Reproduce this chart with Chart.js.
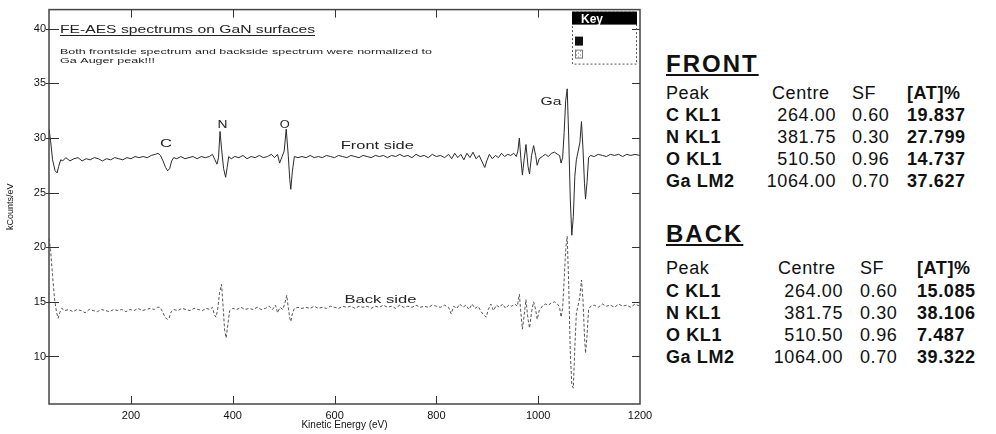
<!DOCTYPE html>
<html>
<head>
<meta charset="utf-8">
<script src="https://cdn.jsdelivr.net/npm/chart.js@4"></script>
<style>
html, body { margin: 0; padding: 0; background: #fff; }
body { width: 996px; height: 434px; position: relative; overflow: hidden; font-family: "Liberation Sans", Arial, sans-serif; color: #111; }
#wrap { position: absolute; left: 0; top: 0; width: 660px; height: 434px; }
.cell { position: absolute; font-size: 18px; line-height: 20px; letter-spacing: 0.6px; white-space: nowrap; }
.b { font-weight: bold; }
.head { position: absolute; font-size: 24px; line-height: 28px; font-weight: bold; letter-spacing: 2px; text-decoration: underline; text-decoration-thickness: 2px; text-underline-offset: 2px; }
</style>
</head>
<body>
<div id="wrap"><canvas id="spectrum"></canvas></div>
<div id="tables"></div>
<script>
// AES spectra, [kinetic energy eV, kCounts/eV]
const frontSpectrum = [[39,30.8],[42,29.8],[46,28.0],[51,27.0],[55,26.8],[58,27.4],[62,28.0],[66,27.9],[72,28.2],[80,27.9],[88,28.1],[96,28.2],[104,27.9],[112,28.1],[120,28.0],[128,28.2],[136,28.1],[144,27.9],[152,28.1],[160,28.0],[168,28.2],[176,28.1],[184,28.0],[192,28.2],[200,28.1],[208,28.3],[216,28.2],[224,28.3],[232,28.2],[240,28.4],[248,28.5],[253,28.6],[258,28.4],[263,27.9],[268,27.3],[272,27.0],[276,27.2],[280,27.9],[284,28.2],[290,28.1],[298,28.3],[306,28.1],[314,28.2],[322,28.3],[330,28.1],[338,28.3],[346,28.2],[354,28.3],[360,28.5],[365,28.0],[369,27.6],[372,28.2],[375,30.6],[378,29.0],[382,27.2],[386,26.4],[389,27.3],[392,28.3],[397,28.1],[404,28.3],[412,28.2],[420,28.4],[428,28.1],[436,28.3],[444,28.2],[452,28.4],[460,28.2],[468,28.3],[476,28.5],[482,28.2],[488,28.5],[492,27.7],[497,28.3],[501,28.8],[505,30.8],[509,28.4],[512,26.2],[514,25.3],[517,26.9],[521,28.3],[528,28.2],[536,28.3],[544,28.2],[552,28.4],[560,28.2],[568,28.3],[576,28.2],[584,28.4],[592,28.3],[600,28.2],[608,28.4],[616,28.3],[624,28.2],[632,28.4],[640,28.3],[648,28.2],[656,28.4],[664,28.3],[672,28.2],[680,28.4],[688,28.3],[696,28.4],[704,28.2],[712,28.4],[720,28.3],[728,28.5],[736,28.3],[744,28.4],[752,28.2],[760,28.5],[768,28.3],[776,28.4],[784,28.2],[792,28.5],[800,28.3],[808,28.4],[816,28.2],[824,28.5],[830,28.1],[836,28.6],[842,28.2],[848,28.5],[854,28.0],[860,28.6],[866,28.2],[872,28.7],[878,28.1],[884,28.4],[890,27.8],[895,27.3],[899,27.9],[904,28.5],[910,28.1],[916,28.4],[922,28.2],[928,28.6],[934,28.3],[940,28.5],[946,28.4],[952,28.6],[957,28.3],[960,28.8],[963,30.0],[966,28.1],[969,26.6],[972,27.9],[976,29.4],[980,27.4],[983,26.7],[987,28.4],[991,29.3],[995,28.4],[998,27.5],[1002,28.1],[1008,28.3],[1014,28.5],[1020,28.3],[1026,28.6],[1032,28.7],[1038,28.5],[1042,28.4],[1045,27.7],[1048,28.2],[1051,30.5],[1054,33.4],[1057,34.5],[1060,30.0],[1063,24.5],[1066,21.1],[1069,22.8],[1072,26.5],[1075,28.0],[1079,28.9],[1082,29.6],[1085,31.5],[1088,29.0],[1091,25.8],[1093,24.4],[1096,26.0],[1099,28.2],[1103,28.4],[1110,28.3],[1118,28.5],[1126,28.4],[1134,28.3],[1142,28.5],[1150,28.4],[1158,28.5],[1166,28.3],[1174,28.5],[1182,28.4],[1190,28.5],[1200,28.4]];

const backSpectrum = [[39,20.8],[42,19.8],[46,17.4],[50,15.2],[54,14.0],[57,13.5],[60,14.0],[64,14.4],[70,14.2],[78,14.3],[86,14.1],[94,14.3],[102,14.2],[110,14.0],[118,14.3],[126,14.2],[134,14.1],[142,14.3],[150,14.2],[158,14.1],[166,14.3],[174,14.2],[182,14.3],[190,14.1],[198,14.3],[206,14.2],[214,14.4],[222,14.2],[230,14.3],[238,14.4],[246,14.3],[252,14.5],[257,14.5],[262,14.1],[267,13.6],[271,13.4],[275,13.5],[279,14.1],[284,14.3],[292,14.2],[300,14.4],[308,14.3],[316,14.2],[324,14.4],[332,14.3],[340,14.2],[348,14.4],[355,14.3],[360,14.5],[364,13.8],[367,13.6],[370,14.2],[374,15.8],[378,16.6],[381,14.6],[384,12.4],[387,11.7],[390,12.8],[394,14.2],[400,14.4],[408,14.3],[416,14.5],[424,14.3],[432,14.4],[440,14.3],[448,14.5],[456,14.3],[464,14.4],[472,14.6],[478,14.3],[484,14.7],[488,14.0],[493,14.5],[498,14.3],[502,14.8],[506,15.6],[509,14.5],[512,13.5],[514,13.2],[517,13.9],[521,14.4],[528,14.5],[536,14.4],[544,14.5],[552,14.4],[560,14.6],[568,14.4],[576,14.5],[584,14.4],[592,14.6],[600,14.5],[608,14.4],[616,14.6],[624,14.5],[632,14.6],[640,14.4],[648,14.6],[656,14.5],[664,14.6],[672,14.4],[680,14.6],[688,14.5],[696,14.7],[704,14.5],[712,14.6],[720,14.4],[728,14.7],[736,14.5],[744,14.6],[752,14.5],[760,14.7],[768,14.5],[776,14.6],[784,14.5],[792,14.7],[800,14.6],[808,14.5],[816,14.7],[824,14.5],[829,13.9],[834,14.6],[840,14.4],[846,14.8],[852,14.5],[858,14.7],[864,14.3],[870,14.8],[876,14.4],[882,14.6],[888,14.1],[893,13.8],[898,13.6],[902,14.3],[907,14.8],[912,14.2],[918,14.7],[924,14.5],[930,14.8],[936,14.4],[942,14.7],[948,14.6],[954,14.8],[959,14.6],[963,15.7],[966,14.0],[969,12.5],[972,13.6],[976,15.2],[980,13.4],[983,12.6],[987,14.1],[991,15.0],[995,14.3],[998,13.4],[1002,14.2],[1008,14.6],[1014,14.8],[1020,14.7],[1026,14.9],[1032,15.0],[1038,14.8],[1042,14.5],[1045,13.6],[1048,14.4],[1051,17.0],[1054,19.8],[1057,21.0],[1060,16.5],[1063,10.5],[1066,7.4],[1069,7.1],[1072,10.8],[1075,14.0],[1079,14.8],[1082,15.5],[1085,17.0],[1088,15.2],[1091,11.8],[1093,10.3],[1096,11.9],[1099,14.3],[1103,14.6],[1110,14.7],[1118,14.5],[1126,14.8],[1134,14.6],[1142,14.7],[1150,14.5],[1158,14.8],[1166,14.6],[1174,14.7],[1182,14.5],[1190,14.8],[1200,14.6]];

const xTicks = [200, 400, 600, 800, 1000, 1200];
const yTicks = [10, 15, 20, 25, 30, 35, 40];

// peak labels on the plot: text, energy, kCounts, width
const peakLabels = [['C', 269, 29.4, 12], ['N', 380, 31.2, 10], ['O', 502, 31.2, 10], ['Ga', 1025, 33.3, 21]];
const sideLabels = [['Front side', 684, 29.3, 73], ['Back side', 690, 15.2, 72]];

// quantification tables
const peaks = ['C KL1', 'N KL1', 'O KL1', 'Ga LM2'];
const centres = ['264.00', '381.75', '510.50', '1064.00'];
const sensFactors = ['0.60', '0.30', '0.96', '0.70'];
const frontAt = ['19.837', '27.799', '14.737', '37.627'];
const backAt = ['15.085', '38.106', '7.487', '39.322'];

const FONT = '"Liberation Sans", Arial, sans-serif';

function stretchText(ctx, txt, x, y, w, font, align, base) {
    ctx.font = font;
    const m = ctx.measureText(txt).width;
    ctx.save();
    ctx.translate(x, y);
    ctx.scale(w / m, 1);
    ctx.textAlign = align || 'center';
    ctx.textBaseline = base || 'middle';
    ctx.fillText(txt, 0, 0);
    ctx.restore();
}

const frame = {
    id: 'frame',
    afterDatasetsDraw(chart) {
        const { ctx, chartArea: a, scales: { x, y } } = chart;
        ctx.save();
        ctx.strokeStyle = '#444';
        ctx.lineWidth = 1.5;
        ctx.strokeRect(a.left, a.top, a.right - a.left, a.bottom - a.top);
        ctx.lineWidth = 1;
        ctx.strokeStyle = '#333';
        ctx.beginPath();
        yTicks.forEach(v => {
            const py = Math.round(y.getPixelForValue(v)) + 0.5;
            ctx.moveTo(a.left - 3, py); ctx.lineTo(a.left + 10, py);
            ctx.moveTo(a.right - 8, py); ctx.lineTo(a.right, py);
        });
        xTicks.slice(0, -1).forEach(v => {
            const px = Math.round(x.getPixelForValue(v)) + 0.5;
            ctx.moveTo(px, a.bottom); ctx.lineTo(px, a.bottom - 8);
            ctx.moveTo(px, a.top); ctx.lineTo(px, a.top + 8);
        });
        ctx.stroke();

        ctx.fillStyle = '#222';
        peakLabels.forEach(([t, e, v, w]) => stretchText(ctx, t, x.getPixelForValue(e), y.getPixelForValue(v), w, '10px ' + FONT));
        sideLabels.forEach(([t, e, v, w]) => stretchText(ctx, t, x.getPixelForValue(e), y.getPixelForValue(v), w, '11px ' + FONT));

        // title block
        stretchText(ctx, 'FE-AES spectrums on GaN surfaces', a.left + 11, 33, 255, '11px ' + FONT, 'left', 'alphabetic');
        ctx.fillRect(a.left + 11, 35, 255, 1);
        stretchText(ctx, 'Both frontside spectrum and backside spectrum were normalized to', a.left + 11, 54, 372, '8px ' + FONT, 'left', 'alphabetic');
        stretchText(ctx, 'Ga Auger peak!!!', a.left + 11, 63, 95, '8px ' + FONT, 'left', 'alphabetic');

        // key box
        const kx = a.right - 68, ky = a.top + 2;
        ctx.setLineDash([2, 2]);
        ctx.strokeStyle = '#555';
        ctx.strokeRect(kx + 0.5, ky + 0.5, 64, 52);
        ctx.setLineDash([]);
        ctx.fillStyle = '#000';
        ctx.fillRect(kx, ky, 65, 13);
        ctx.fillStyle = '#fff';
        ctx.font = 'bold 12px ' + FONT;
        ctx.textAlign = 'left';
        ctx.textBaseline = 'alphabetic';
        ctx.fillText('Key', kx + 9, ky + 11);
        ctx.fillStyle = '#111';
        ctx.fillRect(kx + 3, ky + 25, 8, 9);
        ctx.strokeStyle = '#777';
        ctx.strokeRect(kx + 3.5, ky + 38.5, 7, 8);
        ctx.fillStyle = '#777';
        for (let i = 0; i < 4; i++) {
            for (let j = 0; j < 4; j++) {
                if ((i + j) % 2 === 0) ctx.fillRect(kx + 4 + i * 2, ky + 39 + j * 2, 1, 1);
            }
        }
        ctx.restore();
    }
};

new Chart('spectrum', {
    type: 'line',
    data: {
        datasets: [
            {
                label: 'Front side',
                data: frontSpectrum.map(([e, v]) => ({ x: e, y: v })),
                borderColor: '#2a2a2a',
                borderWidth: 1,
                pointRadius: 0,
                tension: 0
            },
            {
                label: 'Back side',
                data: backSpectrum.map(([e, v]) => ({ x: e, y: v })),
                borderColor: '#555',
                borderWidth: 1,
                borderDash: [3, 2],
                pointRadius: 0,
                tension: 0
            }
        ]
    },
    options: {
        responsive: true,
        maintainAspectRatio: false,
        animation: false,
        layout: { padding: { top: 5, right: 20, left: 0, bottom: 0 } },
        plugins: { legend: { display: false }, tooltip: { enabled: false } },
        scales: {
            x: {
                type: 'linear',
                min: 39,
                max: 1200,
                grid: { display: false, drawTicks: false },
                border: { display: false },
                afterBuildTicks: s => { s.ticks = xTicks.map(v => ({ value: v })); },
                afterFit: s => { s.height = 30; },
                ticks: { color: '#111', font: { size: 11, family: FONT }, padding: 5, maxRotation: 0, callback: v => String(v) },
                title: { display: true, text: 'Kinetic Energy (eV)', color: '#111', font: { size: 10, family: FONT }, padding: { top: 0, bottom: 3 } }
            },
            y: {
                min: 5.65,
                max: 41.75,
                grid: { display: false, drawTicks: false },
                border: { display: false },
                afterBuildTicks: s => { s.ticks = yTicks.map(v => ({ value: v })); },
                afterFit: s => { s.width = 49; },
                ticks: { color: '#111', font: { size: 11, family: FONT }, padding: 3, callback: v => String(v) },
                title: { display: true, text: 'kCounts/eV', color: '#111', font: { size: 9, family: FONT }, padding: { top: 5, bottom: 0 } }
            }
        }
    },
    plugins: [frame]
});

// tables on the right
const tables = document.getElementById('tables');
function cell(txt, left, cy, bold, right) {
    const d = document.createElement('div');
    d.className = 'cell' + (bold ? ' b' : '');
    d.textContent = txt;
    d.style.top = (cy - 10) + 'px';
    if (right) { d.style.right = (996 - left) + 'px'; } else { d.style.left = left + 'px'; }
    tables.appendChild(d);
}
function block(title, titleY, headY, rowY, cols, values) {
    const h = document.createElement('div');
    h.className = 'head';
    h.textContent = title;
    h.style.left = '666px';
    h.style.top = (titleY - 14) + 'px';
    tables.appendChild(h);
    cell('Peak', 666, headY, false);
    cell('Centre', cols[0], headY, false);
    cell('SF', cols[2], headY, false);
    cell('[AT]%', cols[3], headY, true);
    peaks.forEach((p, i) => {
        const cy = rowY + i * 22;
        cell(p, 666, cy, true);
        cell(centres[i], cols[1], cy, false, true);
        cell(sensFactors[i], cols[2], cy, false);
        cell(values[i], cols[3], cy, true);
    });
}
block('FRONT', 64, 93, 115, [772, 836, 852, 907], frontAt);
block('BACK', 234, 268, 291, [778, 843, 860, 917], backAt);
</script>
</body>
</html>
